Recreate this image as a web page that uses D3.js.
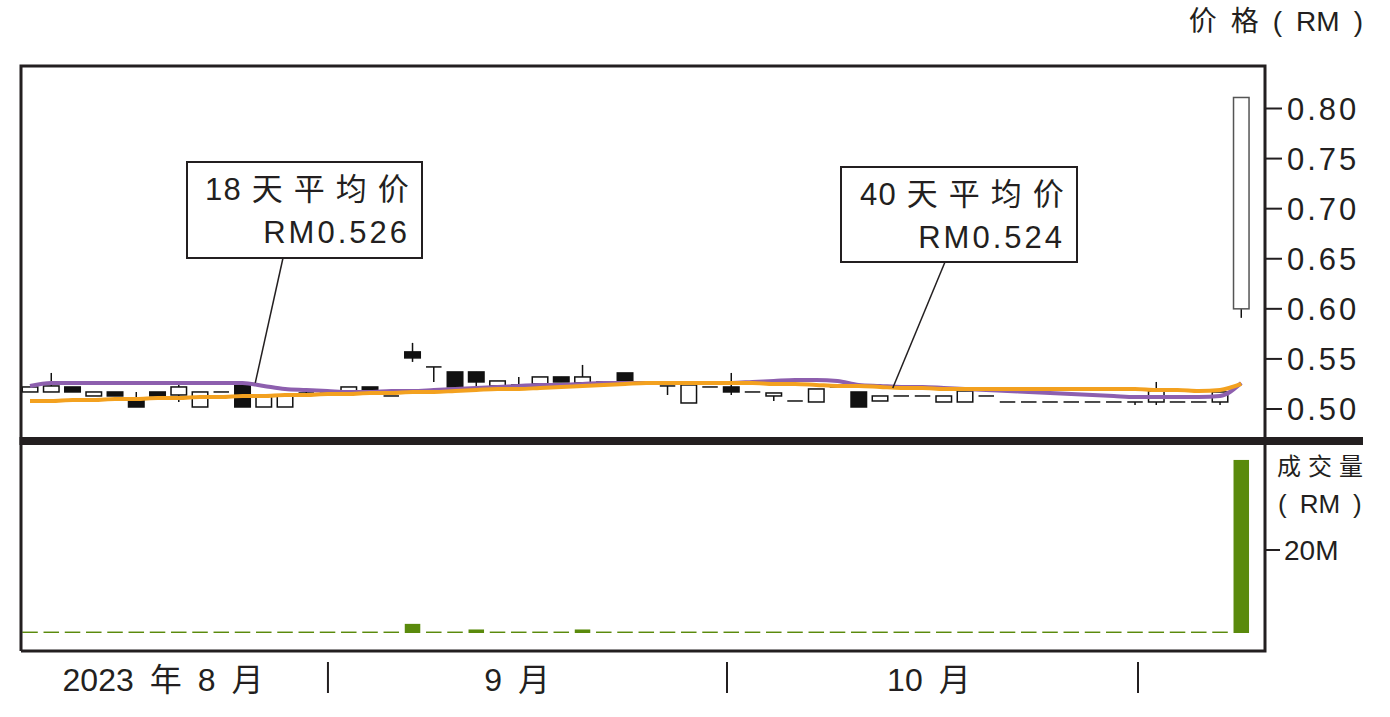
<!DOCTYPE html>
<html>
<head>
<meta charset="utf-8">
<script src="https://cdn.jsdelivr.net/npm/d3@7"></script>
<style>
  body { margin: 0; background: #fff; }
  text { font-family: "Liberation Sans", Arial, "Noto Sans CJK SC", sans-serif; fill: #231f20; }
</style>
</head>
<body>
<div id="chart"></div>
<script>
// 每日数据 (58 个交易日)
const days = d3.range(58);
const open = [.517,.517,.522,.513,.517,.510,.517,.514,.502,.517, .524,.502,.502,.516,.516,.518,.522,.513,.557,.542,
              .537,.537,.523,.524,.525,.532,.526,.527,.536,.527, .523,.506,.522,.522,.517,.513,.508,.507,.522,.517,
              .508,.513,.513,.507,.507,.513,.507,.507,.507,.507, .507,.507,.507,.507,.507,.507,.507,.600];
const close = [.522,.523,.517,.517,.513,.502,.513,.522,.517,.517, .502,.514,.514,.516,.516,.522,.517,.513,.551,.542,
               .522,.527,.528,.524,.532,.527,.532,.527,.527,.527, .523,.524,.522,.517,.517,.516,.508,.520,.522,.502,
               .513,.513,.513,.513,.518,.513,.507,.507,.507,.507, .507,.507,.507,.518,.507,.507,.517,.811];
const high = [.522,.536,.522,.517,.517,.517,.517,.526,.517,.517, .524,.514,.514,.518,.516,.522,.522,.513,.566,.542,
              .537,.537,.528,.532,.532,.532,.544,.527,.536,.527, .523,.524,.522,.536,.517,.516,.508,.520,.522,.517,
              .513,.513,.513,.513,.518,.513,.507,.507,.507,.507, .507,.507,.507,.527,.507,.507,.517,.811];
const low = [.517,.517,.517,.513,.513,.502,.513,.507,.502,.517, .502,.502,.502,.516,.516,.518,.517,.513,.547,.527,
             .522,.522,.523,.524,.525,.527,.526,.527,.527,.527, .514,.506,.522,.514,.517,.508,.508,.507,.522,.502,
             .508,.513,.513,.507,.507,.513,.507,.507,.507,.507, .507,.507,.504,.504,.507,.507,.504,.591];
// 成交量 (百万)
const volume = [.35,.35,.35,.35,.35,.35,.35,.35,.35,.35, .35,.35,.35,.35,.35,.35,.35,.35,2.2,.35,
                .35,.85,.35,.35,.35,.35,.85,.35,.35,.35, .35,.35,.35,.35,.35,.35,.35,.35,.35,.35,
                .35,.35,.35,.35,.35,.35,.35,.35,.35,.35, .35,.35,.35,.35,.35,.35,.35,41.7];
// 移动平均
const ma18 = [.523,.526,.526,.526,.526,.526,.526,.526,.526,.526, .526,.523,.520,.519,.518,.517,.517,.518,.518,.519,
              .520,.521,.522,.523,.524,.524,.525,.526,.526,.526, .526,.526,.526,.526,.527,.528,.529,.529,.528,.524,
              .523,.522,.522,.521,.520,.519,.518,.517,.516,.515, .514,.513,.512,.512,.512,.512,.513,.526];
const ma40 = [.508,.508,.509,.509,.510,.510,.511,.511,.512,.512, .513,.513,.514,.514,.515,.515,.516,.516,.517,.517,
              .518,.519,.520,.520,.521,.522,.523,.524,.525,.526, .526,.526,.526,.526,.526,.525,.525,.524,.523,.523,
              .522,.521,.521,.520,.520,.520,.520,.520,.520,.520, .520,.520,.520,.519,.519,.518,.519,.525];

const priceTicks = [0.50, 0.55, 0.60, 0.65, 0.70, 0.75, 0.80];
const volTicks = [20];
const monthLabels = [
  { label: "2023\u2002年\u20028\u2002月", pos: 6.26 },
  { label: "9\u2002月", pos: 22.92 },
  { label: "10\u2002月", pos: 42.3 }
];
const monthBreaks = [14.02, 32.8, 52.14];
const notes = [
  { title: "18 天 平 均 价", value: "RM0.526", at: 10.6, price: 0.526, box: [187, 162, 235, 96], from: 283 },
  { title: "40 天 平 均 价", value: "RM0.524", at: 40.6, price: 0.521, box: [841, 167, 236, 95], from: 945 }
];

const W = 1390, H = 717;
const pLeft = 21, pRight = 1265, pTop = 66, pMid = 441, pBottom = 651;

const svg = d3.select("#chart").append("svg")
  .attr("width", W).attr("height", H);

const x = d3.scaleBand().domain(days)
  .range([19.4, 1251.9]).paddingInner(0.27).paddingOuter(0.135);
const bw = x.bandwidth();
const cx = d => x(d) + bw / 2;
const xi = d3.scaleLinear().domain([0, days.length - 1]).range([cx(0), cx(days.length - 1)]);

const y = d3.scaleLinear().domain([0.5, 0.8]).range([409, 108.5]);
const yv = d3.scaleLinear().domain([0, 20]).range([633, 550]);

// 剪裁区
svg.append("clipPath").attr("id", "pclip").append("rect")
  .attr("x", pLeft).attr("y", pTop).attr("width", pRight - pLeft).attr("height", pMid - pTop);

const pg = svg.append("g").attr("clip-path", "url(#pclip)");

// 蜡烛图
const candles = pg.selectAll(".candle").data(days).enter().append("g").attr("class", "candle");
candles.append("line")
  .attr("x1", d => cx(d)).attr("x2", d => cx(d))
  .attr("y1", d => y(high[d])).attr("y2", d => y(low[d]))
  .attr("stroke", "#111").attr("stroke-width", 1.5);
candles.filter(d => Math.abs(open[d] - close[d]) > 0.0005).append("rect")
  .attr("x", d => x(d))
  .attr("y", d => y(Math.max(open[d], close[d])))
  .attr("width", bw)
  .attr("height", d => Math.abs(y(open[d]) - y(close[d])))
  .attr("fill", d => close[d] > open[d] ? "#fff" : "#111")
  .attr("stroke", d => d === days.length - 1 ? "#555" : "#111")
  .attr("stroke-width", 1.5);
candles.filter(d => Math.abs(open[d] - close[d]) <= 0.0005).append("line")
  .attr("x1", d => x(d)).attr("x2", d => x(d) + bw)
  .attr("y1", d => y(close[d])).attr("y2", d => y(close[d]))
  .attr("stroke", "#111").attr("stroke-width", 1.5);

// 均线
const line = arr => d3.line().x(d => cx(d)).y(d => y(arr[d])).curve(d3.curveMonotoneX)(days);
pg.append("path").attr("d", line(ma18)).attr("fill", "none")
  .attr("stroke", "#8d5fae").attr("stroke-width", 4);
pg.append("path").attr("d", line(ma40)).attr("fill", "none")
  .attr("stroke", "#f3a11f").attr("stroke-width", 4);

// 成交量
svg.selectAll(".vol").data(days).enter().append("rect")
  .attr("x", d => x(d)).attr("width", bw)
  .attr("y", d => yv(volume[d]))
  .attr("height", d => yv(0) - yv(volume[d]))
  .attr("fill", "#5a8a0c");

// 框线
const frame = svg.append("g").attr("stroke", "#231f20").attr("fill", "none");
frame.append("path").attr("stroke-width", 3)
  .attr("d", `M${pLeft},${pBottom}V${pTop}H${pRight}V${pBottom}H${pLeft}`);
frame.append("line").attr("x1", pLeft - 1.5).attr("x2", 1363)
  .attr("y1", pMid).attr("y2", pMid).attr("stroke-width", 8);

// 价格轴
const pa = svg.append("g");
priceTicks.forEach(t => {
  pa.append("line").attr("x1", pRight).attr("x2", 1282)
    .attr("y1", y(t)).attr("y2", y(t)).attr("stroke", "#231f20").attr("stroke-width", 2);
  pa.append("text").attr("x", 1287).attr("y", y(t) + 11)
    .style("font-size", "31px").style("letter-spacing", "3px")
    .text(t.toFixed(2));
});
svg.append("text").attr("x", 1363).attr("y", 31).attr("text-anchor", "end")
  .style("font-size", "28px").text("价\u2002格\u2002(\u2002RM\u2002)");

// 成交量轴
volTicks.forEach(t => {
  svg.append("line").attr("x1", pRight).attr("x2", 1280)
    .attr("y1", yv(t)).attr("y2", yv(t)).attr("stroke", "#231f20").attr("stroke-width", 2);
  svg.append("text").attr("x", 1284).attr("y", yv(t) + 10)
    .style("font-size", "28px").text(t + "M");
});
svg.append("text").attr("x", 1277).attr("y", 475)
  .style("font-size", "24px").style("letter-spacing", "7px").text("成交量");
svg.append("text").attr("x", 1278).attr("y", 513)
  .style("font-size", "26px").text("(\u2002RM\u2002)");

// 月份
monthBreaks.forEach(b => {
  svg.append("line").attr("x1", xi(b)).attr("x2", xi(b))
    .attr("y1", 662).attr("y2", 693).attr("stroke", "#231f20").attr("stroke-width", 2);
});
monthLabels.forEach(m => {
  svg.append("text").attr("x", xi(m.pos)).attr("y", 691).attr("text-anchor", "middle")
    .style("font-size", "32px").text(m.label);
});

// 注释框
notes.forEach(n => {
  const [bx, by, bwid, bh] = n.box;
  svg.append("line").attr("x1", n.from).attr("y1", by + bh)
    .attr("x2", xi(n.at)).attr("y2", y(n.price))
    .attr("stroke", "#231f20").attr("stroke-width", 1.5);
  svg.append("rect").attr("x", bx).attr("y", by).attr("width", bwid).attr("height", bh)
    .attr("fill", "#fff").attr("stroke", "#231f20").attr("stroke-width", 2);
  svg.append("text").attr("x", bx + bwid - 12).attr("y", by + 38).attr("text-anchor", "end")
    .style("font-size", "31px").style("letter-spacing", "1.2px").text(n.title);
  svg.append("text").attr("x", bx + bwid - 12).attr("y", by + 81).attr("text-anchor", "end")
    .style("font-size", "31px").style("letter-spacing", "3px").text(n.value);
});
</script>
</body>
</html>
